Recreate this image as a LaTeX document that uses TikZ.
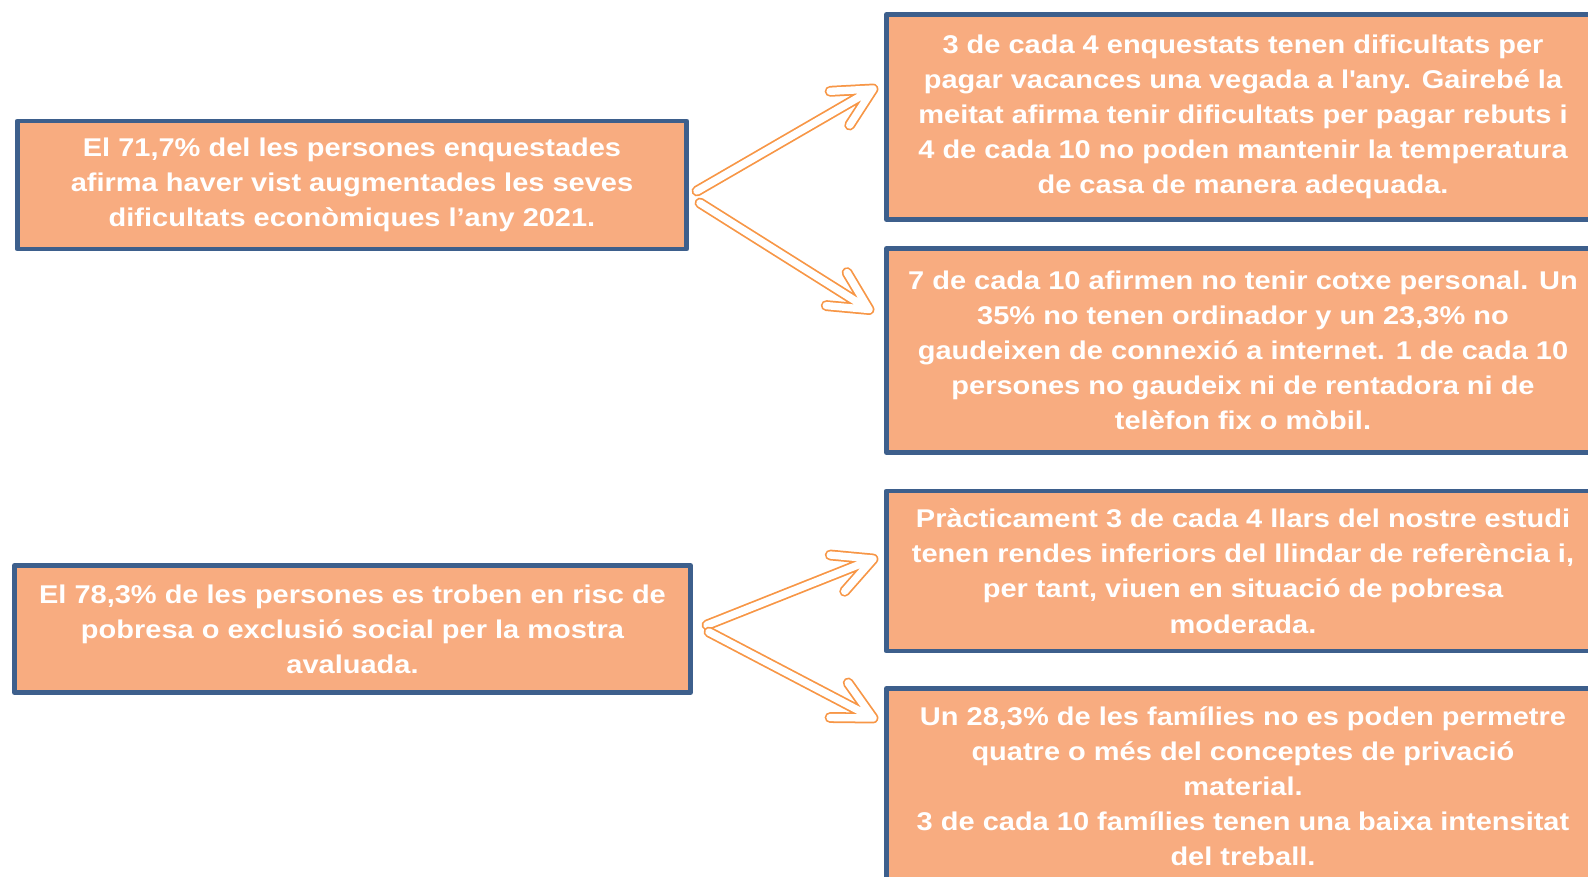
\documentclass[tikz,border=0pt]{standalone}
\usepackage{fontspec}
\setmainfont{Liberation Sans}[FakeStretch=1.13]
\usetikzlibrary{calc}
\definecolor{salmo}{HTML}{F8AC80}
\definecolor{blaufosc}{HTML}{3D5F8C}
\definecolor{taronja}{HTML}{F79646}
\newcommand{\fletxa}[2]{\foreach \c/\w in {taronja/6.2pt,white/4.2pt}
  \draw[\c,line width=\w,line cap=round,line join=round]
    (#1) -- (#2) ($(#2)!0.86cm!27:(#1)$) -- (#2) -- ($(#2)!0.86cm!-27:(#1)$);}

\begin{document}
\begin{tikzpicture}[x=2cm,y=-2cm,
  caixa/.style={draw=blaufosc,fill=salmo,line width=2.8pt,line join=round,
    text=white,align=center,inner sep=0pt,
    font=\fontsize{14.6}{20}\selectfont\bfseries}]
  \useasboundingbox (0,0) rectangle (15.88,8.76);
  \clip (0,0) rectangle (15.88,8.76);

  \node[caixa,minimum width=13.38cm,minimum height=2.56cm] (L1) at (3.52,1.85)
    {El 71,7\% del les persones enquestades\\ afirma haver vist augmentades les seves\\ dificultats econòmiques l’any 2021.};
  \node[caixa,minimum width=13.52cm,minimum height=2.54cm] (L2) at (3.525,6.29)
    {El 78,3\% de les persones es troben en risc de\\ pobresa o exclusió social per la mostra\\ avaluada.};
  \node[caixa,minimum width=14.26cm,minimum height=4.10cm] (R1) at (12.43,1.17)
    {3 de cada 4 enquestats tenen dificultats per\\ pagar vacances una vegada a l\textquotesingle any. Gairebé la\\ meitat afirma tenir dificultats per pagar rebuts i\\ 4 de cada 10 no poden mantenir la temperatura\\ de casa de manera adequada.};
  \node[caixa,minimum width=14.26cm,minimum height=4.08cm] (R2) at (12.43,3.505)
    {7 de cada 10 afirmen no tenir cotxe personal. Un\\ 35\% no tenen ordinador y un 23,3\% no\\ gaudeixen de connexió a internet. 1 de cada 10\\ persones no gaudeix ni de rentadora ni de\\ telèfon fix o mòbil.};
  \node[caixa,minimum width=14.26cm,minimum height=3.20cm] (R3) at (12.43,5.71)
    {Pràcticament 3 de cada 4 llars del nostre estudi\\ tenen rendes inferiors del llindar de referència i,\\ per tant, viuen en situació de pobresa\\ moderada.};
  \node[caixa,minimum width=14.26cm,minimum height=3.90cm] (R4) at (12.43,7.86)
    {Un 28,3\% de les famílies no es poden permetre\\ quatre o més del conceptes de privació\\ material.\\ 3 de cada 10 famílies tenen una baixa intensitat\\ del treball.};

  \coordinate (a1) at ($(L1.east)+(0.08,0.06)$);
  \coordinate (b1) at ($(R1.west)+(-0.11,-0.28)$);
  \coordinate (a2) at ($(L1.east)+(0.11,0.18)$);
  \coordinate (b2) at ($(R2.west)+(-0.15,-0.41)$);
  \coordinate (a3) at ($(L2.east)+(0.14,-0.04)$);
  \coordinate (b3) at ($(R3.west)+(-0.11,-0.12)$);
  \coordinate (a4) at ($(L2.east)+(0.16,0.03)$);
  \coordinate (b4) at ($(R4.west)+(-0.11,-0.68)$);

  \fletxa{a1}{b1}
  \fletxa{a2}{b2}
  \fletxa{a3}{b3}
  \fletxa{a4}{b4}
\end{tikzpicture}
\end{document}
